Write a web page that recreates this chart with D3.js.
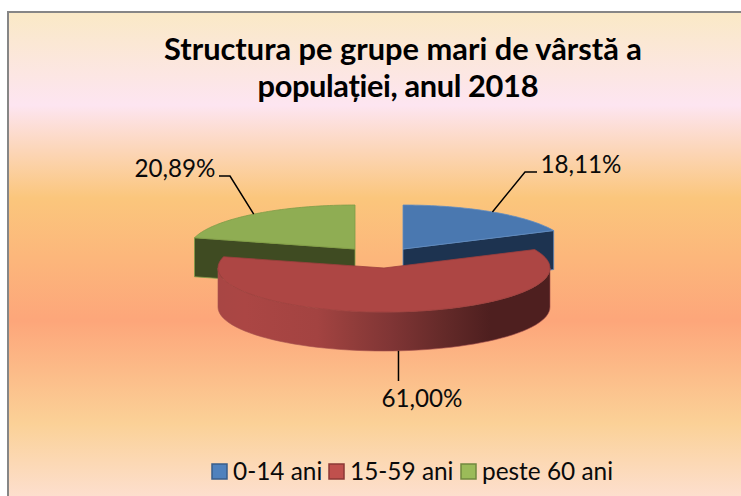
<!DOCTYPE html>
<html>
<head>
<meta charset="utf-8">
<script src="https://cdn.jsdelivr.net/npm/d3@7"></script>
<style>
  html, body { margin: 0; padding: 0; background: #fff; }
  svg { display: block; font-family: Lato, sans-serif; }
</style>
</head>
<body>
<svg id="chart" width="741" height="496"></svg>
<script>
const categories = ['0-14 ani', '15-59 ani', 'peste 60 ani']
const values = [18.11, 61.00, 20.89]
const valueLabels = ['18,11%', '61,00%', '20,89%']
const titleLines = ['Structura pe grupe mari de vârstă a', 'populației, anul 2018']

const topColors = ['#4a78b0', '#ad4644', '#8fad53']
const sideColors = ['#1d3350', '#a84644', '#3f4b22']
const edgeColors = ['#5f8cc0', '#9c3f3d', '#7f9c48']
const swatchColors = ['#4f81bd', '#c0504d', '#9bbb59']
const swatchEdges = ['#385d8a', '#8c3836', '#71893f']

const rx = 166
const ry = 44
const depth = 39
// slice centres, exploded away from the middle
const centers = [[403, 249], [384, 268], [355, 249]]
// where each label sits and the elbow of its leader
const labelSpots = [[581, 173, 'middle'], [422, 407, 'middle'], [175, 177, 'middle']]
const elbows = [[[525, 172], [537, 172]], [], [[230, 176], [219, 176]]]
const titleX = [403, 398]
const titleFit = [478, 281]

const svg = d3.select('#chart')
const defs = svg.append('defs')

const bg = defs.append('linearGradient').attr('id', 'bg')
  .attr('x1', 0).attr('y1', 0).attr('x2', 0).attr('y2', 1)
const bgStops = [[0, '#fae9c6'], [0.19, '#fde5f1'], [0.38, '#fbc67c'], [0.63, '#fda67a'], [0.84, '#fbd197'], [1, '#fde0d2']]
bg.selectAll('stop').data(bgStops).enter().append('stop')
  .attr('offset', d => d[0]).attr('stop-color', d => d[1])

const wall = defs.append('linearGradient').attr('id', 'wall')
  .attr('gradientUnits', 'userSpaceOnUse')
  .attr('x1', 218).attr('y1', 0).attr('x2', 550).attr('y2', 0)
const wallStops = [[0, '#a84644'], [0.08, '#ab4644'], [0.3, '#a34341'], [0.42, '#8f3c3a'], [0.52, '#803535'], [0.68, '#642a29'], [0.82, '#4e1f1f'], [1, '#4e1f1f']]
wall.selectAll('stop').data(wallStops).enter().append('stop')
  .attr('offset', d => d[0]).attr('stop-color', d => d[1])

svg.append('rect')
  .attr('x', 8).attr('y', 12).attr('width', 740).attr('height', 490)
  .attr('fill', 'url(#bg)').attr('stroke', '#868686').attr('stroke-width', 2)

svg.append('g').selectAll('text').data(titleLines).enter().append('text')
  .attr('x', (d, i) => titleX[i]).attr('y', (d, i) => 60 + i * 37)
  .attr('text-anchor', 'middle')
  .attr('textLength', (d, i) => titleFit[i])
  .style('font-size', '30.8px').style('font-weight', 700).style('fill', '#000')
  .text(d => d)

const pie = d3.pie().sort(null).value(d => d)
const slices = pie(values).map((d, i) => ({ ...d, i, c: centers[i] }))

// angle runs clockwise from the top of the ellipse
const rim = (c, a, dy = 0) => [c[0] + rx * Math.sin(a), c[1] - ry * Math.cos(a) + dy]
const arcPoints = (c, a0, a1, dy = 0) => d3.range(0, 61).map(k => rim(c, a0 + (a1 - a0) * k / 60, dy))
const line = d3.line()

const topPath = d => line([d.c, ...arcPoints(d.c, d.startAngle, d.endAngle)]) + 'Z'

// flat cut faces first, the red slice goes on top of them
const cuts = svg.append('g')
slices.filter(d => d.i !== 1).forEach(d => {
  const a = d.i === 0 ? d.endAngle : d.startAngle
  const r = rim(d.c, a)
  const rd = rim(d.c, a, depth)
  cuts.append('path')
    .attr('d', line([d.c, r, rd, [d.c[0], d.c[1] + depth]]) + 'Z')
    .attr('fill', sideColors[d.i]).attr('stroke', edgeColors[d.i]).attr('stroke-width', 0.8)
})

slices.filter(d => d.i !== 1).forEach(d => {
  svg.append('path').attr('d', topPath(d))
    .attr('fill', topColors[d.i]).attr('stroke', edgeColors[d.i]).attr('stroke-width', 0.8)
})

const red = slices[1]
const front = arcPoints(red.c, Math.PI / 2, Math.PI * 3 / 2)
svg.append('path')
  .attr('d', line([...front, ...arcPoints(red.c, Math.PI * 3 / 2, Math.PI / 2, depth)]) + 'Z')
  .attr('fill', 'url(#wall)').attr('stroke', '#a5504e').attr('stroke-width', 0.6)
svg.append('path').attr('d', topPath(red))
  .attr('fill', topColors[1]).attr('stroke', edgeColors[1]).attr('stroke-width', 0.8)

// leaders start on the rim at the middle of each slice
slices.forEach(d => {
  const mid = (d.startAngle + d.endAngle) / 2
  const dy = d.i === 1 ? depth : 0
  const start = rim(d.c, mid, dy)
  const pts = d.i === 1 ? [start, [start[0], 381]] : [start, ...elbows[d.i]]
  svg.append('path').attr('d', line(pts))
    .attr('fill', 'none').attr('stroke', '#000').attr('stroke-width', 1.5)
  svg.append('text')
    .attr('x', labelSpots[d.i][0]).attr('y', labelSpots[d.i][1])
    .attr('text-anchor', labelSpots[d.i][2])
    .style('font-size', '24.2px').style('fill', '#0a0a0a')
    .text(valueLabels[d.i])
})

const legendX = [212, 329, 461]
const legend = svg.append('g').selectAll('g').data(categories).enter().append('g')
  .attr('transform', (d, i) => `translate(${legendX[i]},464)`)
legend.append('rect')
  .attr('width', 15).attr('height', 15)
  .attr('fill', (d, i) => swatchColors[i]).attr('stroke', (d, i) => swatchEdges[i]).attr('stroke-width', 1.5)
legend.append('text')
  .attr('x', 21).attr('y', 16)
  .style('font-size', '24.4px').style('fill', '#0a0a0a')
  .text(d => d)
</script>
</body>
</html>
